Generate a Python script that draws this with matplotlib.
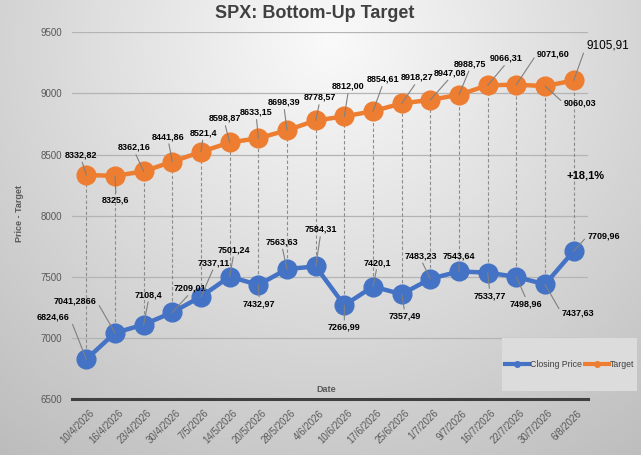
import numpy as np
import matplotlib
matplotlib.use("Agg")
import matplotlib.pyplot as plt
import matplotlib.transforms as mtransforms
from matplotlib.lines import Line2D
from matplotlib.patches import Rectangle

plt.rcParams['font.family'] = ['Liberation Sans', 'DejaVu Sans']

dates = ["10/4/2026", "16/4/2026", "23/4/2026", "30/4/2026", "7/5/2026", "14/5/2026",
         "20/5/2026", "28/5/2026", "4/6/2026", "10/6/2026", "17/6/2026", "25/6/2026",
         "1/7/2026", "9/7/2026", "16/7/2026", "22/7/2026", "30/7/2026", "6/8/2026"]
closing = [6824.66, 7041.2866, 7108.4, 7209.01, 7337.11, 7501.24, 7432.97, 7563.63, 7584.31,
           7266.99, 7420.1, 7357.49, 7483.23, 7543.64, 7533.77, 7498.96, 7437.63, 7709.96]
target = [8332.82, 8325.6, 8362.16, 8441.86, 8521.4, 8598.87, 8633.15, 8698.39, 8778.57,
          8812.00, 8854.61, 8918.27, 8947.08, 8988.75, 9066.31, 9071.60, 9060.03, 9105.91]
closing_labels = ["6824,66", "7041,2866", "7108,4", "7209,01", "7337,11", "7501,24", "7432,97",
                  "7563,63", "7584,31", "7266,99", "7420,1", "7357,49", "7483,23", "7543,64",
                  "7533,77", "7498,96", "7437,63", "7709,96"]
target_labels = ["8332,82", "8325,6", "8362,16", "8441,86", "8521,4", "8598,87", "8633,15",
                 "8698,39", "8778,57", "8812,00", "8854,61", "8918,27", "8947,08", "8988,75",
                 "9066,31", "9071,60", "9060,03", "9105,91"]
yticks = [6500, 7000, 7500, 8000, 8500, 9000, 9500]

# label placement (pixel offsets from the point)
target_off = [(-5, 20), (1, -24), (-9, 24), (-4, 25), (2, 19), (-5, 24), (-2, 26), (-3, 28),
              (4, 23), (4, 30), (10, 32), (15, 26), (20, 27), (11, 31), (19, 27), (37, 31),
              (35, -17), (34, 35)]
closing_off = [(-33, 42), (-40, 32), (5, 30), (18, 24), (13, 34), (4, 27), (1, -19), (-5, 27),
               (5, 37), (0, -22), (4, 24), (3, -22), (-9, 23), (0, 15), (2, -23), (10, -27),
               (33, -29), (30, 15)]

BLUE = "#4472C4"
ORANGE = "#ED7D31"
W, H = 641, 455
fig = plt.figure(figsize=(W / 100, H / 100), dpi=100)

# background gradient
bg = fig.add_axes([0, 0, 1, 1], zorder=-10)
yy, xx = np.mgrid[0:H, 0:W]
d = np.hypot(xx - 330, yy - 40) / 530.0
g = np.clip(250 - 62 * d, 0, 255) / 255.0
bg.imshow(np.dstack([g, g, g]), extent=(0, W, H, 0), aspect='auto')
bg.set_xlim(0, W)
bg.set_ylim(H, 0)
bg.axis('off')

ax = fig.add_axes([72 / W, (H - 399) / H, 516 / W, (399 - 32.3) / H])
ax.patch.set_alpha(0)
x = np.arange(len(dates))
ax.set_xlim(-0.5, len(dates) - 0.5)
ax.set_ylim(6500, 9500)

ax.set_yticks(yticks)
ax.yaxis.grid(True, color='#b4b4b4', lw=0.9)
ax.set_axisbelow(True)
for s in ['top', 'right', 'left']:
    ax.spines[s].set_visible(False)
ax.spines['bottom'].set_color('#404040')
ax.spines['bottom'].set_linewidth(2.2)
ax.tick_params(axis='y', length=0, pad=7, labelsize=7, labelcolor='#595959')
ax.tick_params(axis='x', length=0, pad=6.5, labelsize=7, labelcolor='#595959')
ax.set_xticks(x)
ax.set_xticklabels(dates, rotation=45, ha='right', va='top', rotation_mode='anchor')
off = mtransforms.ScaledTranslation(3 / 100, 0, fig.dpi_scale_trans)
for lab in ax.get_xticklabels():
    lab.set_transform(lab.get_transform() + off)

# high-low dashed lines
ax.vlines(x, closing, target, colors='#8c8c8c', linestyles=(0, (3, 2)), lw=0.8, zorder=1)

ax.plot(x, closing, color=BLUE, lw=3.2, marker='o', ms=13.5, zorder=3)
ax.plot(x, target, color=ORANGE, lw=3.2, marker='o', ms=13.5, zorder=3)


def relpos_for(dx, dy):
    if abs(dx) > 25:
        return (0.0, 0.5) if dx > 0 else (1.0, 0.5)
    return (0.5, 0.0) if dy > 0 else (0.5, 1.0)


n = len(dates)
for i in range(n):
    dx, dy = target_off[i]
    big = (i == n - 1)
    ax.annotate(target_labels[i], (x[i], target[i]), xytext=(dx, dy), textcoords='offset pixels',
                ha='center', va='center', fontsize=8.5 if big else 6.5,
                fontweight='normal' if big else 'bold', color='black', zorder=6,
                arrowprops=dict(arrowstyle='-', color='#808080', lw=0.8, shrinkA=0, shrinkB=0,
                                relpos=relpos_for(dx, dy)))
    dx, dy = closing_off[i]
    ax.annotate(closing_labels[i], (x[i], closing[i]), xytext=(dx, dy), textcoords='offset pixels',
                ha='center', va='center', fontsize=6.5, fontweight='bold', color='black', zorder=6,
                arrowprops=dict(arrowstyle='-', color='#808080', lw=0.8, shrinkA=0, shrinkB=0,
                                relpos=relpos_for(dx, dy)))

pct = (target[-1] / closing[-1] - 1) * 100
pct_txt = "+" + f"{pct:.1f}".replace(".", ",") + "%"
ax.annotate(pct_txt, (x[-1], (closing[-1] + target[-1]) / 2), xytext=(12, -10),
            textcoords='offset pixels', ha='center', va='center', fontsize=8,
            fontweight='bold', color='black', zorder=6)

# titles
fig.text(315 / W, 1 - 14 / H, "SPX: Bottom-Up Target", ha='center', va='center',
         fontsize=13, fontweight='bold', color='#404040')
fig.text(20 / W, 1 - 214 / H, "Price - Target", rotation=90, ha='center', va='center',
         fontsize=6.5, fontweight='bold', color='#595959')
fig.text(326 / W, 1 - 389 / H, "Date", ha='center', va='center',
         fontsize=6.5, fontweight='bold', color='#595959')

# legend
fig.patches.append(Rectangle((502 / W, 1 - 391 / H), 135 / W, 53 / H, transform=fig.transFigure,
                             facecolor='#dcdcdc', edgecolor='none', zorder=0))
handles = [Line2D([], [], color=BLUE, lw=3, marker='o', ms=4),
           Line2D([], [], color=ORANGE, lw=3, marker='o', ms=4)]
fig.legend(handles, ["Closing Price", "Target"], loc='center',
           bbox_to_anchor=(569.5 / W, 1 - 364.5 / H), ncol=2, frameon=False, fontsize=6.3,
           handlelength=2.8, handletextpad=0.1, columnspacing=0.3, labelcolor='#404040',
           borderpad=0, borderaxespad=0)

fig.savefig("out.png", dpi=100)
